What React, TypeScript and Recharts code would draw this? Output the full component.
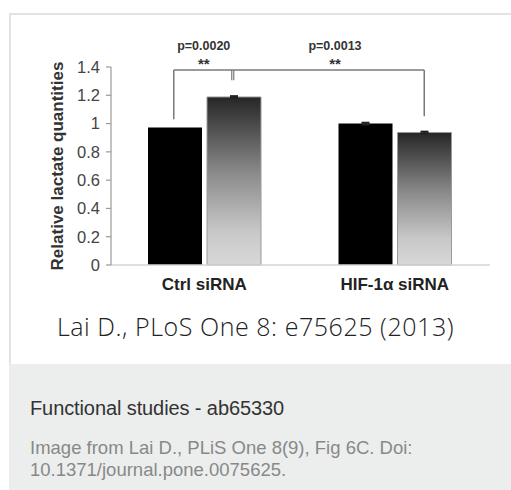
import React from 'react';
import { BarChart, Bar, XAxis, YAxis, ErrorBar, ReferenceLine, Label } from 'recharts';

const categories = ['Ctrl siRNA', 'HIF-1α siRNA'];
const controlValues = [0.972, 1.0];
const controlErrors = [0, 0.006];
const treatedValues = [1.188, 0.937];
const treatedErrors = [0.006, 0.006];
const yTicks = [0, 0.2, 0.4, 0.6, 0.8, 1, 1.2, 1.4];

const bracketTop = 1.379;
const legLeftCtrl = 1.031;
const legRightCtrl = 1.306;
const legRightHif = 1.052;
const pLabels = ['p=0.0020', 'p=0.0013'];
const starLabels = ['**', '**'];

const data = categories.map((c, i) => ({
  name: c,
  control: controlValues[i],
  controlErr: controlErrors[i],
  treated: treatedValues[i],
  treatedErr: treatedErrors[i],
}));

const BAR = 54;
const GAP = 5;
const OFF = (BAR + GAP) / 2;
const LINE = '#7a7a7a';
const FONT = '"Liberation Sans", Arial, sans-serif';

const seg = (dx1: number, dx2: number) => (p: any) => (
  <line x1={p.x1 + dx1} y1={p.y1} x2={p.x2 + dx2} y2={p.y2} stroke={LINE} strokeWidth={1.5} />
);

const doubleSeg = (dx: number) => (p: any) => (
  <g>
    <line x1={p.x1 + dx - 2} y1={p.y1} x2={p.x2 + dx - 2} y2={p.y2} stroke={LINE} strokeWidth={1.2} />
    <line x1={p.x1 + dx} y1={p.y1} x2={p.x2 + dx} y2={p.y2} stroke={LINE} strokeWidth={1.2} />
  </g>
);

const hSeg = (dx1: number, dx2: number, idx: number, labelShift: number) => (p: any) => {
  const xa = p.x1 + dx1;
  const xb = p.x2 + dx2;
  const cx = (xa + xb) / 2 + labelShift;
  return (
    <g>
      <line x1={xa} y1={p.y1} x2={xb} y2={p.y2} stroke={LINE} strokeWidth={1.5} />
      <text x={cx} y={p.y1 - 20} textAnchor="middle" fontFamily={FONT} fontWeight="bold" fontSize={12.5} fill="#333">
        {pLabels[idx]}
      </text>
      <text x={cx} y={p.y1 - 1} textAnchor="middle" fontFamily={FONT} fontWeight="bold" fontSize={15} fill="#333">
        {starLabels[idx]}
      </text>
    </g>
  );
};

const YLabel = () => (
  <text
    x={57}
    y={166}
    transform="rotate(-90 57 166)"
    textAnchor="middle"
    dominantBaseline="central"
    fontFamily={FONT}
    fontWeight="bold"
    fontSize={17}
    fill="#333"
  >
    Relative lactate quantities
  </text>
);

export default function App() {
  return (
    <div style={{ position: 'absolute', left: 0, top: 0, width: 511, height: 490, background: '#fff', overflow: 'hidden' }}>
      <div
        style={{
          position: 'absolute',
          left: 9,
          top: 13,
          width: 520,
          height: 349,
          border: '2px solid #e3e3e3',
          background: '#fff',
        }}
      />
      <div style={{ position: 'absolute', left: 9, top: 364, width: 502, height: 126, background: '#eceeed' }} />
      <div style={{ position: 'absolute', left: 0, top: 0 }}>
        <BarChart
          width={511}
          height={300}
          data={data}
          margin={{ top: 67, right: 21, bottom: 0, left: 0 }}
          barSize={BAR}
          barGap={GAP}
        >
          <defs>
            <linearGradient id="gradBar" x1="0" y1="0" x2="0" y2="1">
              <stop offset="0%" stopColor="#262626" />
              <stop offset="45%" stopColor="#8a8a8a" />
              <stop offset="80%" stopColor="#c8c8c8" />
              <stop offset="100%" stopColor="#d8d8d8" />
            </linearGradient>
          </defs>
          <XAxis
            dataKey="name"
            height={35}
            tickLine={false}
            tickSize={0}
            tickMargin={13}
            axisLine={{ stroke: '#d4d4d4', strokeWidth: 1.5 }}
            padding={{ left: -2, right: 0 }}
            tick={{ fontFamily: FONT, fontWeight: 'bold', fontSize: 17, fill: '#222' }}
          />
          <YAxis
            width={111}
            domain={[0, 1.4]}
            ticks={yTicks}
            interval={0}
            tickSize={5}
            tickMargin={6}
            axisLine={{ stroke: '#9a9a9a', strokeWidth: 1.2 }}
            tickLine={{ stroke: '#9a9a9a', strokeWidth: 1.2 }}
            tickFormatter={(v: number) => String(v)}
            tick={{ fontFamily: FONT, fontSize: 16.5, fill: '#444' }}
          >
            <Label content={<YLabel />} />
          </YAxis>
          <Bar dataKey="control" fill="#000" isAnimationActive={false}>
            <ErrorBar dataKey="controlErr" width={4} stroke="#222" strokeWidth={2} />
          </Bar>
          <Bar dataKey="treated" fill="url(#gradBar)" stroke="#9a9a9a" strokeWidth={1} isAnimationActive={false}>
            <ErrorBar dataKey="treatedErr" width={4} stroke="#222" strokeWidth={2} />
          </Bar>
          <ReferenceLine
            segment={[{ x: categories[0], y: legLeftCtrl }, { x: categories[0], y: bracketTop }]}
            shape={seg(-OFF - 1, -OFF - 1)}
          />
          <ReferenceLine
            segment={[{ x: categories[0], y: legRightCtrl }, { x: categories[0], y: bracketTop }]}
            shape={doubleSeg(OFF)}
          />
          <ReferenceLine
            segment={[{ x: categories[0], y: bracketTop }, { x: categories[0], y: bracketTop }]}
            shape={hSeg(-OFF - 1, OFF, 0, 0)}
          />
          <ReferenceLine
            segment={[{ x: categories[0], y: bracketTop }, { x: categories[1], y: bracketTop }]}
            shape={hSeg(OFF, OFF, 1, 6)}
          />
          <ReferenceLine
            segment={[{ x: categories[1], y: legRightHif }, { x: categories[1], y: bracketTop }]}
            shape={seg(OFF, OFF)}
          />
        </BarChart>
      </div>
      <div
        style={{
          position: 'absolute',
          left: 0,
          width: 511,
          top: 309,
          textAlign: 'center',
          fontFamily: '"Open Sans", sans-serif',
          fontWeight: 300,
          fontSize: 25,
          letterSpacing: 0.55,
          color: '#222',
          lineHeight: '34px',
          whiteSpace: 'nowrap',
        }}
      >
        Lai D., PLoS One 8: e75625 (2013)
      </div>
      <div
        style={{
          position: 'absolute',
          left: 30,
          top: 396,
          fontFamily: FONT,
          fontSize: 20,
          letterSpacing: -0.1,
          color: '#333',
          lineHeight: '24px',
          whiteSpace: 'nowrap',
        }}
      >
        Functional studies - ab65330
      </div>
      <div
        style={{
          position: 'absolute',
          left: 30,
          top: 437,
          fontFamily: FONT,
          fontSize: 18.5,
          color: '#888',
          lineHeight: '22px',
          whiteSpace: 'nowrap',
        }}
      >
        Image from Lai D., PLiS One 8(9), Fig 6C. Doi:
        <br />
        10.1371/journal.pone.0075625.
      </div>
    </div>
  );
}
